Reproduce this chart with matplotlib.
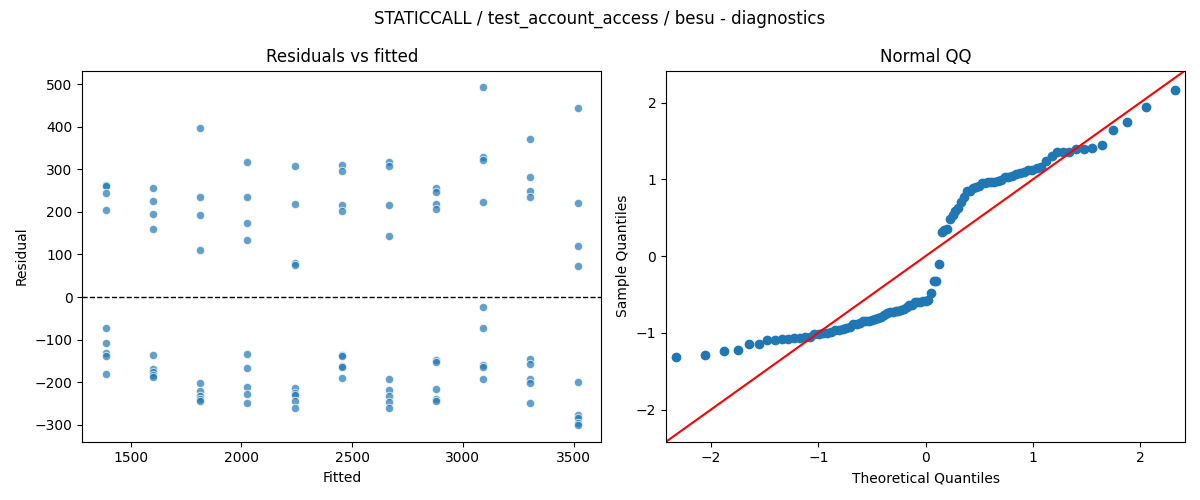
import numpy as np
import matplotlib
matplotlib.use("Agg")
import matplotlib.pyplot as plt
from statistics import NormalDist

# fitted level of each group and the residuals seen at that level
fitted_levels = [1388, 1601, 1814, 2027, 2240, 2453, 2666, 2879, 3092, 3305, 3518]
residual_groups = [
    [263, 260, 244, 204, -73, -109, -131, -138, -181],
    [255, 225, 194, 159, -137, -170, -176, -183, -187],
    [398, 234, 192, 110, -202, -221, -232, -240, -243],
    [317, 234, 174, 133, -134, -167, -210, -228, -249],
    [307, 218, 80, 76, -214, -226, -230, -245, -261],
    [309, 297, 216, 202, -135, -138, -162, -165, -190],
    [317, 307, 215, 143, -193, -219, -233, -246, -261],
    [256, 246, 218, 206, -147, -153, -216, -240, -243],
    [492, 329, 321, 222, -24, -73, -160, -164, -193],
    [372, 283, 249, 236, -145, -156, -192, -202, -249],
    [443, 220, 121, 72, -200, -278, -283, -295, -300],
]

fitted = []
resid = []
for f, grp in zip(fitted_levels, residual_groups):
    fitted += [f] * len(grp)
    resid += grp
fitted = np.array(fitted, dtype=float)
resid = np.array(resid, dtype=float)

# normal QQ: standardised sorted residuals vs normal quantiles
n = len(resid)
sample_q = np.sort((resid - resid.mean()) / resid.std())
nd = NormalDist()
theo_q = np.array([nd.inv_cdf(i / (n + 1)) for i in range(1, n + 1)])

fig, (ax1, ax2) = plt.subplots(1, 2, figsize=(12, 5))
fig.suptitle("STATICCALL / test_account_access / besu - diagnostics")

ax1.scatter(fitted, resid, s=36, alpha=0.7, color="C0", edgecolor="white", linewidth=0.75)
ax1.axhline(0, color="black", linestyle="--", linewidth=1)
ax1.set_title("Residuals vs fitted")
ax1.set_xlabel("Fitted")
ax1.set_ylabel("Residual")

ax2.plot(theo_q, sample_q, marker="o", linestyle="none", color="C0")
lim = (-2.42, 2.42)
ax2.plot(lim, lim, color="red")
ax2.set_xlim(lim)
ax2.set_ylim(lim)
ax2.set_title("Normal QQ")
ax2.set_xlabel("Theoretical Quantiles")
ax2.set_ylabel("Sample Quantiles")

plt.tight_layout()
plt.savefig("out.png", dpi=100)
plt.close()
